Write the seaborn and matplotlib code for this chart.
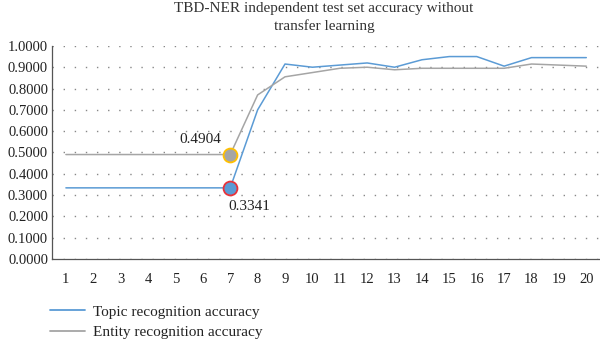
import matplotlib
matplotlib.use("Agg")
import matplotlib.pyplot as plt
import seaborn as sns
import pandas as pd
from matplotlib.lines import Line2D

epochs = list(range(1, 21))
topic_acc = [0.3341, 0.3341, 0.3341, 0.3341, 0.3341, 0.3341, 0.3341, 0.700, 0.915, 0.900,
             0.910, 0.920, 0.900, 0.935, 0.950, 0.950, 0.905, 0.945, 0.945, 0.945]
entity_acc = [0.4904, 0.4904, 0.4904, 0.4904, 0.4904, 0.4904, 0.4904, 0.770, 0.855, 0.875,
              0.895, 0.900, 0.888, 0.895, 0.895, 0.895, 0.895, 0.915, 0.910, 0.905]
series_names = ["Topic recognition accuracy", "Entity recognition accuracy"]
title = "TBD-NER independent test set accuracy without\ntransfer learning"
y_ticks = [0.0, 0.1, 0.2, 0.3, 0.4, 0.5, 0.6, 0.7, 0.8, 0.9, 1.0]

sns.set_style("white")
plt.rcParams['font.family'] = ['Liberation Serif', 'DejaVu Serif']

df = pd.DataFrame({
    "epoch": epochs * 2,
    "acc": topic_acc + entity_acc,
    "series": [series_names[0]] * 20 + [series_names[1]] * 20,
})

colors = {series_names[0]: "#5B9BD5", series_names[1]: "#A5A5A5"}

fig = plt.figure(figsize=(6, 3.4), dpi=100)
ax = fig.add_axes([0.087, 0.238, 0.913, 0.627])
sns.lineplot(data=df, x="epoch", y="acc", hue="series", palette=colors, ax=ax,
             linewidth=1.1, legend=False, zorder=3)

# highlight points at epoch 7
ax.plot([epochs[6]], [entity_acc[6]], marker='o', markersize=10, markerfacecolor="#A5A5A5",
        markeredgecolor="#FFC000", markeredgewidth=1.3, zorder=5, clip_on=False)
ax.plot([epochs[6]], [topic_acc[6]], marker='o', markersize=10, markerfacecolor="#5B9BD5",
        markeredgecolor="#E8333A", markeredgewidth=1.3, zorder=5, clip_on=False)
ax.annotate(f"{entity_acc[6]:.4f}", (epochs[6], entity_acc[6]), xytext=(-21.5, 10.5),
            textcoords="offset points", ha="center", va="center", fontsize=11, color="#222222")
ax.annotate(f"{topic_acc[6]:.4f}", (epochs[6], topic_acc[6]), xytext=(13.7, -13.5),
            textcoords="offset points", ha="center", va="center", fontsize=11, color="#222222")

ax.set_xlim(0.5, 20.5)
ax.set_ylim(0, 1.0)
ax.set_xticks(epochs)
ax.set_yticks(y_ticks)
ax.set_yticklabels([f"{v:.4f}" for v in y_ticks])
ax.set_xlabel("")
ax.set_ylabel("")
ax.yaxis.grid(True, linestyle=(0, (1, 7)), color="#888888", linewidth=1.0)
ax.xaxis.grid(False)
for s in ["top", "right"]:
    ax.spines[s].set_visible(False)
for s in ["left", "bottom"]:
    ax.spines[s].set_color("#555555")
    ax.spines[s].set_linewidth(0.9)
ax.tick_params(axis='both', which='both', length=4, width=0.8, color="#555555",
               labelsize=10.5, labelcolor="#222222", direction='out')
ax.tick_params(axis='x', pad=6)
ax.tick_params(axis='y', length=0, pad=3)

fig.text(0.54, 0.993, title, ha="center", va="top", fontsize=11, color="#333333", linespacing=1.4)

handles = [Line2D([0], [0], color=colors[n], linewidth=1.3) for n in series_names]
fig.legend(handles, series_names, loc="upper left", bbox_to_anchor=(0.083, 0.103), frameon=False,
           fontsize=11, handlelength=2.3, labelspacing=0.45, handletextpad=0.5,
           borderaxespad=0, borderpad=0, labelcolor="#222222")

fig.savefig("out.png", dpi=100)
